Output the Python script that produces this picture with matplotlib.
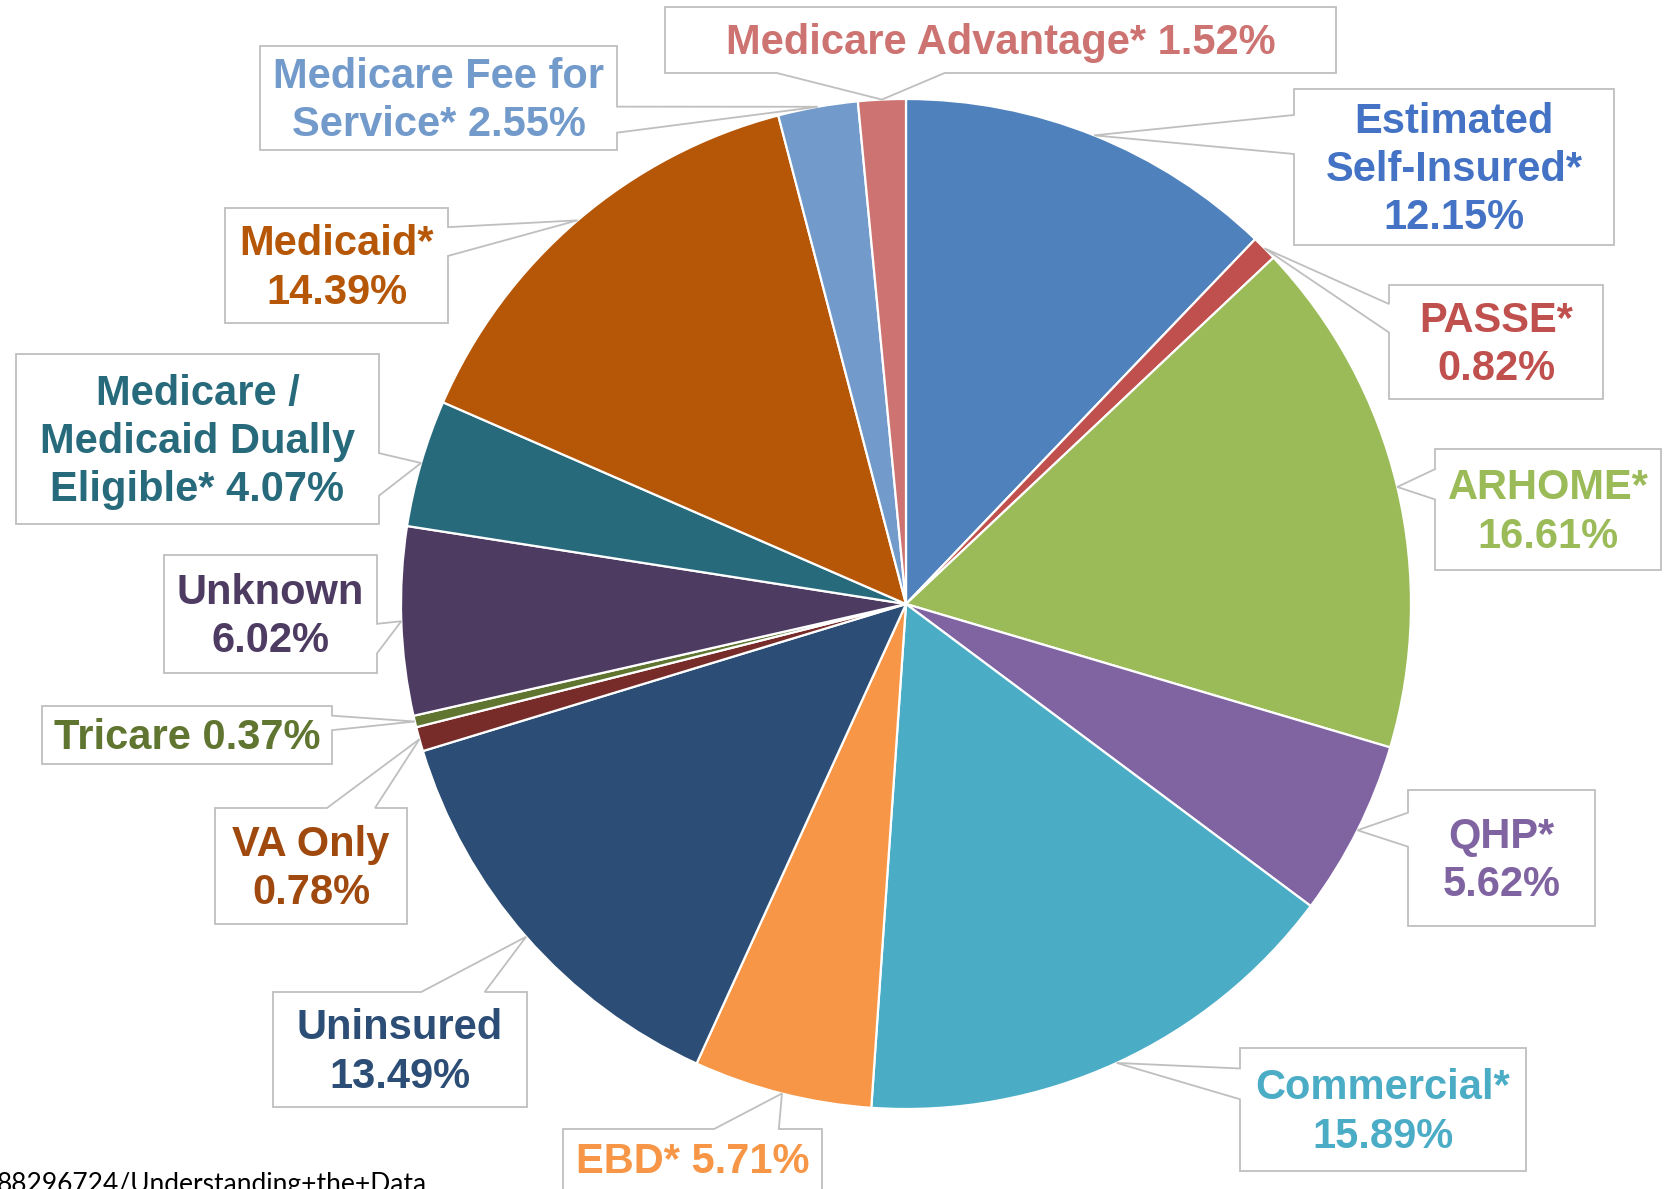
import numpy as np
import matplotlib.pyplot as plt
from matplotlib.patches import Polygon

W, H = 1673, 1189

names = ["Estimated\nSelf-Insured*", "PASSE*", "ARHOME*", "QHP*", "Commercial*",
         "EBD*", "Uninsured", "VA Only", "Tricare", "Unknown",
         "Medicare /\nMedicaid Dually\nEligible*", "Medicaid*",
         "Medicare Fee for\nService*", "Medicare Advantage*"]
shares = [12.15, 0.82, 16.61, 5.62, 15.89, 5.71, 13.49, 0.78, 0.37, 6.02,
          4.07, 14.39, 2.55, 1.52]
slice_colors = ["#4F81BD", "#C0504D", "#9BBB59", "#8064A2", "#4BACC6", "#F79646",
                "#2C4D75", "#772C2A", "#5F7530", "#4D3B62", "#276A7C", "#B65708",
                "#729ACA", "#CD7371"]
text_colors = ["#4472C4", "#C0504D", "#9BBB59", "#8064A2", "#4BACC6", "#F79646",
               "#2C4D75", "#A0490E", "#5F7530", "#4D3B62", "#276A7C", "#B65708",
               "#729ACA", "#CD7371"]
# separator between name and value in each label
seps = ["\n", "\n", "\n", "\n", "\n", " ", "\n", "\n", " ", "\n", " ", "\n", " ", " "]

# callout boxes in pixels (x0, y0, x1, y1), y measured from the top
boxes = [(1294, 89, 1614, 245), (1389, 285, 1603, 399), (1435, 449, 1661, 570),
         (1408, 790, 1595, 926), (1240, 1048, 1526, 1171), (563, 1129, 822, 1210),
         (273, 992, 527, 1107), (215, 808, 407, 924), (42, 706, 332, 764),
         (164, 555, 377, 673), (16, 354, 379, 524), (225, 208, 448, 323),
         (260, 46, 617, 150), (665, 7, 1336, 73)]

CX, CY, R = 906, 604, 505


def flip(p):
    return (p[0], H - p[1])


def callout_pts(box, tip):
    x0, y0, x1, y1 = box
    tx, ty = tip
    w, h = x1 - x0, y1 - y0
    cx, cy = (x0 + x1) / 2, (y0 + y1) / 2
    dx, dy = (tx - cx) / w, (ty - cy) / h
    if abs(dx) > abs(dy):
        a, b = (y0 + h * 2 / 12, y0 + h * 5 / 12) if ty < cy else (y0 + h * 7 / 12, y0 + h * 10 / 12)
        if dx < 0:
            pts = [(x0, y0), (x1, y0), (x1, y1), (x0, y1), (x0, b), tip, (x0, a)]
        else:
            pts = [(x0, y0), (x1, y0), (x1, a), tip, (x1, b), (x1, y1), (x0, y1)]
    else:
        a, b = (x0 + w * 2 / 12, x0 + w * 5 / 12) if tx < cx else (x0 + w * 7 / 12, x0 + w * 10 / 12)
        if dy < 0:
            pts = [(x0, y0), (a, y0), tip, (b, y0), (x1, y0), (x1, y1), (x0, y1)]
        else:
            pts = [(x0, y0), (x1, y0), (x1, y1), (b, y1), tip, (a, y1), (x0, y1)]
    return [flip(p) for p in pts]


fig = plt.figure(figsize=(W / 100, H / 100), dpi=100)
ax = fig.add_axes([0, 0, 1, 1])

wedges, _ = ax.pie(shares, colors=slice_colors, startangle=90, counterclock=False,
                   center=(CX, H - CY), radius=R,
                   wedgeprops=dict(edgecolor="white", linewidth=1.6))

for i, wdg in enumerate(wedges):
    mid = np.deg2rad((wdg.theta1 + wdg.theta2) / 2)
    tip = (CX + R * np.cos(mid), CY - R * np.sin(mid))
    poly = Polygon(callout_pts(boxes[i], tip), closed=True, facecolor="white",
                   edgecolor="#BFBFBF", linewidth=1.3, zorder=3)
    ax.add_patch(poly)
    x0, y0, x1, y1 = boxes[i]
    ym = (y0 + y1) / 2 + 3 if i != 5 else 1162
    label = f"{names[i]}{seps[i]}{shares[i]:.2f}%"
    ax.text((x0 + x1) / 2, H - ym, label, ha="center", va="center",
            multialignment="center", fontsize=30, fontweight="bold",
            family="Liberation Sans", color=text_colors[i], zorder=4,
            linespacing=1.27)

ax.text(427, H - 1172, "88296724/Understanding+the+Data", ha="right", va="top",
        fontsize=19, family="Lato", color="black")

ax.set_xlim(0, W)
ax.set_ylim(0, H)
ax.set_aspect("equal")
ax.axis("off")

fig.savefig("out.png", dpi=100)
